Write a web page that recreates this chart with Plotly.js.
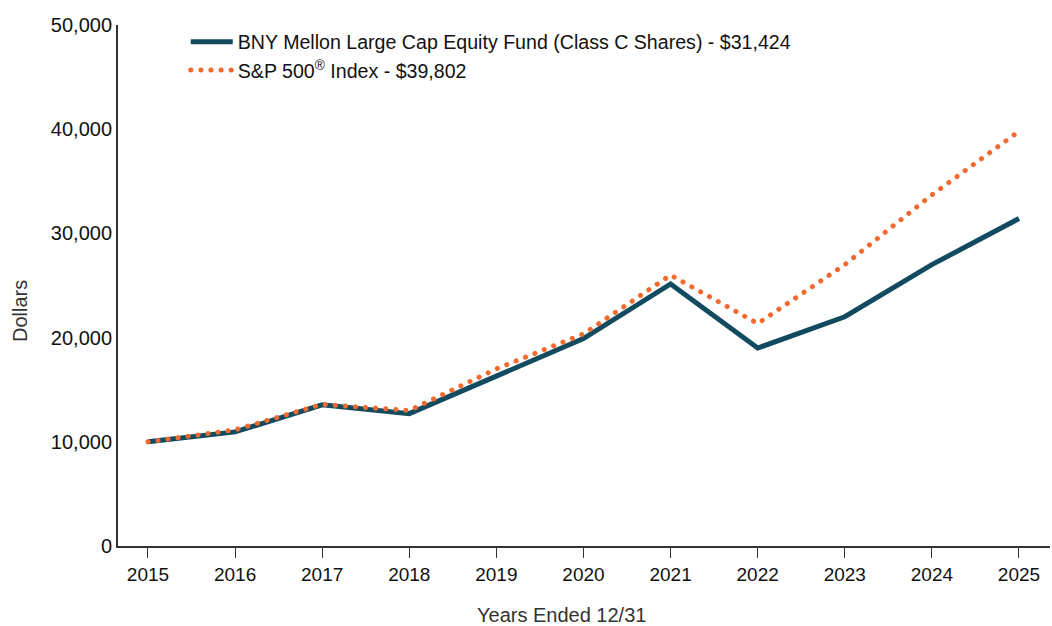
<!DOCTYPE html>
<html>
<head>
<meta charset="utf-8">
<script src="https://cdn.plot.ly/plotly-3.0.1.min.js"></script>
<style>html,body{margin:0;padding:0;background:#fff;}#chart{width:1052px;height:626px;}</style>
</head>
<body>
<div id="chart"></div>
<script>
const years = [2015, 2016, 2017, 2018, 2019, 2020, 2021, 2022, 2023, 2024, 2025];
const fundValues = [10000, 10950, 13550, 12700, 16300, 19900, 25150, 19000, 22000, 27000, 31424];
const indexValues = [10000, 11150, 13600, 13000, 17000, 20350, 26000, 21350, 27000, 33700, 39802];
const fundName = "BNY Mellon Large Cap Equity Fund (Class C Shares) - $31,424";
const indexName = "S&P 500<sup>®</sup> Index - $39,802";
const yTicks = [0, 10000, 20000, 30000, 40000, 50000];
const yTickText = ["0", "10,000", "20,000", "30,000", "40,000", "50,000"];
const xTitle = "Years Ended 12/31";
const yTitle = "Dollars";

const font = "Liberation Sans, Arial, sans-serif";

const traces = [
  {x: years, y: fundValues, name: fundName, mode: "lines", type: "scatter",
   line: {color: "#124b60", width: 5}},
  {x: years, y: indexValues, name: indexName, mode: "lines", type: "scatter",
   line: {color: "#f26a2e", width: 5, dash: "5px,5px"}}
];

const layout = {
  width: 1052, height: 626,
  margin: {l: 118, r: 2, t: 25, b: 80},
  paper_bgcolor: "#fff", plot_bgcolor: "#fff",
  font: {family: font, size: 20, color: "#111"},
  showlegend: true,
  legend: {x: 0.0727, y: 1.005, xanchor: "left", yanchor: "top", bgcolor: "rgba(0,0,0,0)",
           font: {family: font, size: 19.6, color: "#111"}, tracegroupgap: 0, itemwidth: 42},
  xaxis: {
    range: [2014.656, 2025.356], tickvals: years, ticktext: years.map(String),
    showgrid: false, zeroline: false, showline: true, linecolor: "#333", linewidth: 2,
    ticks: "outside", ticklen: 10, tickcolor: "#333", tickwidth: 1,
    tickfont: {family: font, size: 19, color: "#111"}
  },
  yaxis: {
    range: [0, 50000], tickvals: yTicks, ticktext: yTickText,
    showgrid: false, zeroline: false, showline: true, linecolor: "#333", linewidth: 2,
    ticks: "", tickfont: {family: font, size: 20, color: "#111"}
  },
  annotations: [
    {text: xTitle, xref: "paper", yref: "paper", x: (561 - 118) / 932, y: -(615 - 546) / 521,
     xanchor: "center", yanchor: "middle", showarrow: false,
     font: {family: font, size: 20, color: "#333"}},
    {text: yTitle, xref: "paper", yref: "paper", x: -(118 - 20) / 932, y: (546 - 311) / 521,
     xanchor: "center", yanchor: "middle", showarrow: false, textangle: -90,
     font: {family: font, size: 20, color: "#333"}}
  ]
};

Plotly.newPlot("chart", traces, layout, {displayModeBar: false, staticPlot: true}).then(function (gd) {
  gd.querySelectorAll("path").forEach(function (p) {
    const d = p.style.strokeDasharray;
    if (d && d !== "none") {
      p.style.strokeLinecap = "round";
      p.style.strokeDasharray = "0.1px,10px";
    }
  });
});
</script>
</body>
</html>
